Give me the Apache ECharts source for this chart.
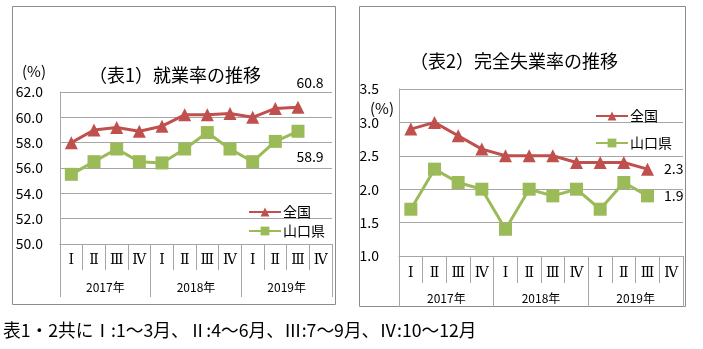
<!DOCTYPE html>
<html><head><meta charset="utf-8">
<script src="https://cdn.jsdelivr.net/npm/echarts@6/dist/echarts.min.js"></script>
<style>html,body{margin:0;padding:0;background:#fff}#c{width:703px;height:349px}</style>
</head><body><div id="c"></div>
<script>
var quarters = ['Ⅰ','Ⅱ','Ⅲ','Ⅳ','Ⅰ','Ⅱ','Ⅲ','Ⅳ','Ⅰ','Ⅱ','Ⅲ','Ⅳ'];
var years = ['2017年','2018年','2019年'];
var empNational = [58.0, 59.0, 59.2, 58.9, 59.3, 60.2, 60.2, 60.3, 60.0, 60.7, 60.8, null];
var empYamaguchi = [55.5, 56.5, 57.5, 56.5, 56.4, 57.5, 58.8, 57.5, 56.5, 58.1, 58.9, null];
var unempNational = [2.9, 3.0, 2.8, 2.6, 2.5, 2.5, 2.5, 2.4, 2.4, 2.4, 2.3, null];
var unempYamaguchi = [1.7, 2.3, 2.1, 2.0, 1.4, 2.0, 1.9, 2.0, 1.7, 2.1, 1.9, null];

var FONT = '"Noto Sans CJK JP", sans-serif';
var RED = '#c0504d', GREEN = '#9bbb59', GRID = '#a6a6a6', TXT = '#000';

function lastLabel(arr, pos, offset) {
  var last = -1;
  for (var k = 0; k < arr.length; k++) if (arr[k] != null) last = k;
  return arr.map(function (v, i) {
    if (i === last) return { value: v, label: { show: true, position: pos, offset: offset, color: TXT, fontSize: 14, fontFamily: FONT,
      formatter: function (p) { return p.value.toFixed(1); } } };
    return v;
  });
}

function xAxes(gi, qMargin, qLen, yMargin, yLen) {
  return [
    { type: 'category', gridIndex: gi, position: 'bottom', data: quarters, boundaryGap: true,
      axisLine: { show: true, onZero: false, lineStyle: { color: GRID } },
      axisTick: { show: true, interval: 0, length: qLen, lineStyle: { color: GRID } },
      axisLabel: { interval: 0, margin: qMargin, color: TXT, fontSize: 14, fontFamily: '"DejaVu Serif", serif' } },
    { type: 'category', gridIndex: gi, position: 'bottom', data: years, boundaryGap: true,
      axisLine: { show: false, onZero: false },
      axisTick: { show: true, interval: 0, length: yLen, lineStyle: { color: GRID } },
      axisLabel: { interval: 0, margin: yMargin, color: TXT, fontSize: 12, fontFamily: FONT } }
  ];
}

var chart = echarts.init(document.getElementById('c'));
var xa = xAxes(0, 9, 26, 37, 53).concat(xAxes(1, 10, 27, 36, 51));
chart.setOption({
  animation: false,
  graphic: [
    { type: 'rect', shape: { x: 12.5, y: 6.5, width: 323, height: 298 }, style: { fill: 'none', stroke: '#8c8c8c', lineWidth: 1 } },
    { type: 'rect', shape: { x: 359.5, y: 6.5, width: 326, height: 300 }, style: { fill: 'none', stroke: '#8c8c8c', lineWidth: 1 } },
    { type: 'text', left: 22, top: 64, style: { text: '(%)', fontSize: 15, fontFamily: FONT, fill: TXT } },
    { type: 'text', left: 370, top: 101, style: { text: '(%)', fontSize: 15, fontFamily: FONT, fill: TXT } },
    { type: 'text', left: 3, top: 321, style: { text: '表1・2共にⅠ:1～3月、Ⅱ:4～6月、Ⅲ:7～9月、Ⅳ:10～12月', fontSize: 17.7, fontFamily: FONT, fill: TXT } }
  ],
  title: [
    { text: '（表1）就業率の推移', left: 84, top: 61, textStyle: { fontSize: 18, fontWeight: 'normal', fontFamily: FONT, color: TXT } },
    { text: '（表2）完全失業率の推移', left: 405, top: 47, textStyle: { fontSize: 18, fontWeight: 'normal', fontFamily: FONT, color: TXT } }
  ],
  legend: [
    { orient: 'vertical', left: 243, top: 200, itemWidth: 32, itemHeight: 11, itemGap: 5, data: ['全国', '山口県'],
      textStyle: { fontSize: 14, fontFamily: FONT, color: TXT, padding: [0,0,0,-3] } },
    { orient: 'vertical', left: 590, top: 104, itemWidth: 32, itemHeight: 11, itemGap: 13, data: ['全国', '山口県'],
      textStyle: { fontSize: 14, fontFamily: FONT, color: TXT, padding: [0,0,0,-3] } }
  ],
  grid: [
    { left: 60, top: 92, width: 272, height: 152 },
    { left: 399, top: 89, width: 284, height: 167 }
  ],
  xAxis: xa,
  yAxis: [
    { type: 'value', gridIndex: 0, min: 50, max: 62, interval: 2,
      axisLine: { show: true, lineStyle: { color: GRID } }, axisTick: { show: false },
      splitLine: { lineStyle: { color: GRID } },
      axisLabel: { margin: 17, color: TXT, fontSize: 14, fontFamily: FONT, formatter: function (v) { return v.toFixed(1); } } },
    { type: 'value', gridIndex: 1, min: 1, max: 3.5, interval: 0.5,
      axisLine: { show: true, lineStyle: { color: GRID } }, axisTick: { show: false },
      splitLine: { lineStyle: { color: GRID } },
      axisLabel: { margin: 20, color: TXT, fontSize: 14, fontFamily: FONT, formatter: function (v) { return v.toFixed(1); } } }
  ],
  series: [
    { name: '全国', type: 'line', xAxisIndex: 0, yAxisIndex: 0, data: lastLabel(empNational, 'top', [12, -6]),
      symbol: 'triangle', symbolSize: 13, lineStyle: { color: RED, width: 3 }, itemStyle: { color: RED } },
    { name: '山口県', type: 'line', xAxisIndex: 0, yAxisIndex: 0, data: lastLabel(empYamaguchi, 'bottom', [12, 7]),
      symbol: 'rect', symbolSize: 13, lineStyle: { color: GREEN, width: 3 }, itemStyle: { color: GREEN } },
    { name: '全国', type: 'line', xAxisIndex: 2, yAxisIndex: 1, data: lastLabel(unempNational, 'right', [5, 0]),
      symbol: 'triangle', symbolSize: 13, lineStyle: { color: RED, width: 3 }, itemStyle: { color: RED } },
    { name: '山口県', type: 'line', xAxisIndex: 2, yAxisIndex: 1, data: lastLabel(unempYamaguchi, 'right', [5, 0]),
      symbol: 'rect', symbolSize: 13, lineStyle: { color: GREEN, width: 3 }, itemStyle: { color: GREEN } }
  ]
});
</script></body></html>
